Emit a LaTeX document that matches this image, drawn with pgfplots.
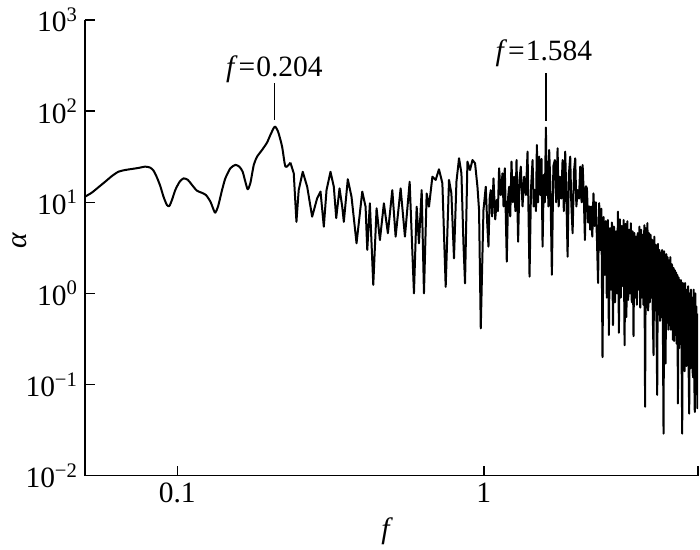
\documentclass[border=0pt]{standalone}
\usepackage{fontspec}
\setmainfont{Liberation Serif}
\usepackage{pgfplots}
\pgfplotsset{compat=1.18}
\newcommand{\fsz}{\fontsize{14.8}{17}\selectfont}
\begin{document}
\begin{tikzpicture}
\begin{axis}[
  scale only axis, width=306.5bp, height=227.85bp,
  xmode=log, ymode=log,
  xmin=0.05, xmax=5, ymin=0.01, ymax=1000,
  axis x line*=bottom, axis y line*=left,
  axis line style={line width=0.75bp,-},
  tick style={line width=0.75bp, black},
  major tick length=5bp,
  tick align=inside,
  xminorticks=false, yminorticks=false,
  xtick={0.1,1}, xticklabels={0.1,1},
  extra x ticks={5}, extra x tick labels={},
  ytick={0.01,0.1,1,10,100,1000},
  yticklabels={10\textsuperscript{−2},10\textsuperscript{−1},10\textsuperscript{0},10\textsuperscript{1},10\textsuperscript{2},10\textsuperscript{3}},
  tick label style={font=\fsz},
  label style={font=\fsz},
  /pgf/number format/assume math mode=true,
  xlabel={\textit{f}}, ylabel={\textit{α}},
  xlabel style={at={(axis description cs:0.493,-0.123)}, anchor=center},
  ylabel style={at={(axis description cs:-0.106,0.515)}, anchor=center},
]
\coordinate (sw) at (rel axis cs:0,0);
\coordinate (ne) at (rel axis cs:1,1);
\addplot[black, line width=1.0bp, line join=round, smooth, tension=0.4] table {
0.0500 11.52
0.0526 12.74
0.0553 14.61
0.0582 16.83
0.0612 19.4
0.0643 21.66
0.0676 22.6
0.0711 23.2
0.0747 23.8
0.0786 24.6
0.0816 24.0
0.0837 22.2
0.0858 18.8
0.0880 15.1
0.0902 11.5
0.0925 9.34
0.0942 9.1
0.0961 10.6
0.0985 13.6
0.1018 16.8
0.1049 18.3
0.1083 17.6
0.1117 15.5
0.1159 13.4
0.1204 12.7
0.1241 12.0
0.1282 10.2
0.1315 8.23
0.1331 7.69
0.1358 8.95
0.1400 13.6
0.1435 18.3
0.1490 23.6
0.1547 25.7
0.1594 24.6
0.1634 21.7
0.1668 16.8
0.1698 13.9
0.1732 16.2
0.1777 25.7
0.1822 31.7
0.1891 37.5
0.1963 45.2
0.2013 54.8
0.2080 67.6
0.2133 59.5
0.2198 40.8
0.2254 24.6
0.2340 27.2
};
\addplot[black, line width=1.0bp, line join=round] table {
0.2340 27.2
0.2399 20.8
0.2448 6.1
0.2490 13.6
0.2567 21.6
0.2654 14.8
0.2755 6.95
0.2861 11.1
0.2934 13.1
0.3007 5.4
0.3069 13.6
0.3162 21.6
0.3242 14.8
0.3301 6.7
0.3384 14.2
0.3453 8.95
0.3495 6.1
0.3601 17.9
0.3703 11.5
0.3846 3.55
0.4014 13.1
0.4115 8.95
0.4168 3.0
0.4250 9.75
0.4360 1.24
0.4470 8.6
0.4583 3.85
0.4722 9.75
0.4866 4.57
0.5030 13.6
0.5157 4.2
0.5355 14.2
0.5531 4.2
0.5731 16.8
0.5919 1.0
0.6040 8.95
0.6146 3.55
0.6272 13.6
0.6381 1.0
0.6512 12.5
0.6626 8.95
0.6798 19.1
0.6968 17.6
0.7143 23.0
0.7328 16.2
0.7513 1.18
0.7702 17.6
0.7842 12.5
0.7997 2.43
0.8144 16.8
0.8304 30.4
0.8455 20.8
0.8584 3.55
0.8687 1.29
0.8845 27.9
0.9020 22.6
0.9186 29.1
0.9367 26.8
0.9537 14.8
0.9652 8.2
0.9777 0.414
0.9977 8.2
1.0151 14.8
1.0260 6.0
1.0360 3.26
1.0450 11.0
1.0541 13.6
1.0650 7.0
1.0757 18.3
1.0900 6.5
1.1027 10.6
1.1120 8.0
1.1220 23.6
1.1360 12.0
1.1510 20.8
1.1600 9.0
1.1711 23.6
1.1888 2.23
1.2000 11.0
1.2096 14.8
1.2200 7.0
1.2316 27.9
1.2440 10.0
1.2560 19.1
1.2680 8.0
1.2790 29.1
1.2944 3.70
1.3080 18.0
1.3210 24.6
1.3380 9.0
1.3543 19.1
1.3720 12.0
1.3894 35.9
1.4104 1.53
1.4260 14.0
1.4428 29.1
1.4550 9.0
1.4680 13.6
1.4800 8.0
1.4903 42.6
1.5030 10.0
1.5163 31.7
1.5300 12.0
1.5430 30.0
1.5556 3.26
1.5700 20.0
1.5820 10.0
1.5950 66
1.6050 12.0
1.6152 27.9
1.6250 9.0
1.6347 37.5
1.6500 15.0
1.6682 1.60
1.6870 25.0
1.7061 29.1
1.7230 10.0
1.7411 39.1
1.7560 9.0
1.7717 19.1
1.7900 11.0
1.8080 29.1
1.8250 8.0
1.8438 35.9
1.8600 12.0
1.8773 2.53
1.8950 20.0
1.9145 31.7
1.9300 10.0
1.9496 4.57
1.9700 22.0
1.9880 30.4
2.0050 9.0
2.0241 13.6
2.0450 11.0
2.0641 24.6
2.0850 10.0
2.1016 25.7
2.1200 12.0
2.1380 3.85
2.1550 15.0
2.1704 14.2
2.1900 6.0
2.2100 9.0
2.2250 5.0
2.24 9.0
2.26 4.2
2.28 12.5
2.30 5.5
2.32 10.0
2.34 4.0
2.36 1.3
2.38 9.8
2.40 3.0
2.42 8.5
2.44 0.20
2.46 6.9
2.48 1.6
2.50 6.2
2.52 0.9
2.54 6.4
2.56 0.35
2.58 5.2
2.60 1.1
2.62 6.0
2.64 0.45
2.66 5.4
2.68 0.8
2.70 4.8
2.72 1.0
2.74 7.9
2.76 0.37
2.78 6.5
2.80 0.9
2.82 5.5
2.84 1.2
2.86 6.4
2.88 0.27
2.90 5.8
2.92 0.55
2.94 6.2
2.96 0.85
2.98 5.0
3.00 1.0
3.02 5.9
3.04 0.8
3.06 4.8
3.08 0.34
3.10 4.6
3.12 0.9
3.14 4.2
3.16 0.75
3.18 4.6
3.20 1.1
3.22 5.4
3.24 0.7
3.26 5.0
3.28 0.9
3.30 4.4
3.32 0.75
3.34 5.6
3.36 0.057
3.38 5.2
3.40 0.7
3.42 5.9
3.44 0.65
3.46 4.6
3.48 0.8
3.50 4.4
3.52 0.9
3.54 3.9
3.56 0.6
3.58 0.21
3.60 4.2
3.62 0.65
3.64 3.4
3.66 0.55
3.68 0.077
3.70 3.5
3.72 0.6
3.74 3.0
3.76 0.5
3.78 2.8
3.80 0.55
3.82 3.0
3.84 0.5
3.86 0.029
3.88 2.9
3.90 0.45
3.92 0.17
3.94 2.7
3.96 0.5
3.98 2.5
4.00 0.4
4.02 2.3
4.04 0.45
4.06 2.5
4.08 0.4
4.10 2.1
4.12 2.0
4.14 0.31
4.16 1.9
4.18 0.3
4.20 1.8
4.22 0.35
4.24 1.7
4.26 0.28
4.28 1.6
4.30 0.062
4.32 1.5
4.34 0.25
4.36 1.4
4.38 0.28
4.40 1.4
4.42 0.22
4.44 0.029
4.46 1.3
4.48 0.2
4.50 1.2
4.52 0.14
4.54 1.3
4.56 0.2
4.58 0.16
4.60 1.1
4.62 0.18
4.64 1.2
4.66 0.15
4.68 0.048
4.70 1.0
4.72 0.15
4.74 1.1
4.76 0.16
4.78 0.9
4.80 0.14
4.82 0.12
4.84 1.1
4.86 0.13
4.88 0.05
4.90 1.0
4.92 0.157
4.94 0.72
4.96 0.12
4.98 0.055
5.00 0.6
};
\draw[line width=0.75bp] (axis cs:0.208,80) -- (axis cs:0.208,204);
\draw[line width=0.75bp] (axis cs:1.595,78.5) -- (axis cs:1.595,264);
\node[font=\fsz, anchor=base, inner sep=0pt] at (axis cs:0.2075,237) {\textit{f}\kern0.5pt=\kern0.5pt0.204};
\node[font=\fsz, anchor=base, inner sep=0pt] at (axis cs:1.571,364) {\textit{f}\kern0.5pt=\kern0.5pt1.584};
\end{axis}
\pgfresetboundingbox
\path ([shift={(-42.5bp,-37.15bp)}]sw) rectangle ([shift={(1bp,10bp)}]ne);
\end{tikzpicture}
\end{document}
